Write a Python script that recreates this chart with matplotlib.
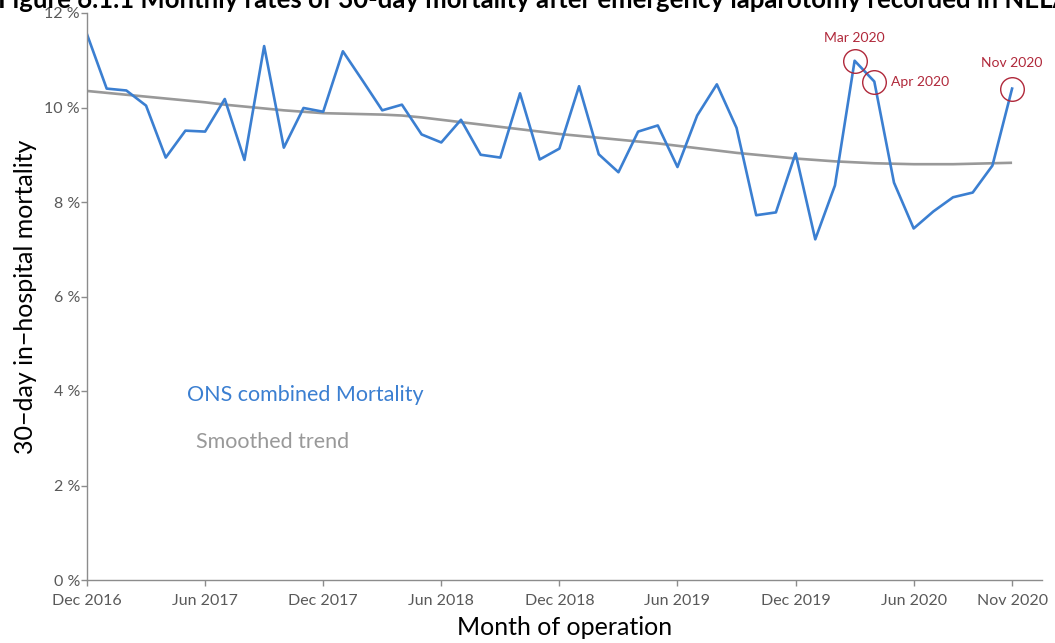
import matplotlib
matplotlib.use('Agg')
import matplotlib.pyplot as plt

# monthly 30-day mortality (%), Dec 2016 .. Nov 2020
mortality = [11.55, 10.40, 10.36, 10.04, 8.94, 9.51, 9.49, 10.18, 8.89, 11.30, 9.15, 9.99,
             9.91, 11.19, 10.57, 9.94, 10.06, 9.43, 9.26, 9.74, 9.00, 8.94, 10.30, 8.90,
             9.13, 10.45, 9.01, 8.63, 9.49, 9.62, 8.74, 9.83, 10.49, 9.57, 7.72, 7.78,
             9.03, 7.21, 8.35, 10.99, 10.55, 8.41, 7.44, 7.80, 8.10, 8.20, 8.77, 10.40]
smoothed = [10.35, 10.31, 10.27, 10.23, 10.19, 10.15, 10.11, 10.06, 10.02, 9.98, 9.94, 9.91,
            9.88, 9.87, 9.86, 9.85, 9.83, 9.79, 9.74, 9.69, 9.64, 9.59, 9.54, 9.49,
            9.44, 9.40, 9.36, 9.32, 9.28, 9.24, 9.19, 9.14, 9.09, 9.04, 9.00, 8.96,
            8.92, 8.89, 8.86, 8.84, 8.82, 8.81, 8.80, 8.80, 8.80, 8.81, 8.82, 8.83]
tick_pos = [0, 6, 12, 18, 24, 30, 36, 42, 47]
tick_labels = ['Dec 2016', 'Jun 2017', 'Dec 2017', 'Jun 2018', 'Dec 2018',
               'Jun 2019', 'Dec 2019', 'Jun 2020', 'Nov 2020']
highlight = [39, 40, 47]
highlight_labels = ['Mar 2020', 'Apr 2020', 'Nov 2020']

plt.rcParams['font.family'] = ['Lato', 'DejaVu Sans']

blue = '#3b7fd1'
grey = '#999999'
red = '#b0283a'
axis_grey = '#8c8c8c'

x = list(range(len(mortality)))

fig = plt.figure(figsize=(10.55, 6.43), dpi=100)
ax = fig.add_axes([87 / 1055, 63 / 643, (1042 - 87) / 1055, (580 - 13) / 643])

ax.plot(x, smoothed, color=grey, lw=1.9, solid_capstyle='butt')
ax.plot(x, mortality, color=blue, lw=1.9)

# circled months
for i in highlight:
    ax.plot(x[i], mortality[i], 'o', ms=17, mfc='none', mec=red, mew=1.0)
ax.annotate(highlight_labels[0], (x[39], mortality[39]), xytext=(0, 12), textcoords='offset points',
            ha='center', va='bottom', color=red, fontsize=10)
ax.annotate(highlight_labels[1], (x[40], mortality[40]), xytext=(12, 0), textcoords='offset points',
            ha='left', va='center', color=red, fontsize=10)
ax.annotate(highlight_labels[2], (x[47], mortality[47]), xytext=(0, 14), textcoords='offset points',
            ha='center', va='bottom', color=red, fontsize=10)

ax.set_xlim(0, 48.52)
ax.set_ylim(0, 12)
ax.set_xticks(tick_pos)
ax.set_xticklabels(tick_labels)
ax.set_yticks(range(0, 13, 2))
ax.set_yticklabels([f'{v} %' for v in range(0, 13, 2)])

for s in ['top', 'right']:
    ax.spines[s].set_visible(False)
for s in ['left', 'bottom']:
    ax.spines[s].set_color(axis_grey)
    ax.spines[s].set_linewidth(1.0)
ax.tick_params(colors=axis_grey, length=4, width=1.0, labelsize=11.5, labelcolor='#595959')
ax.tick_params(axis='x', pad=6)
ax.tick_params(axis='y', pad=1)

ax.set_xlabel('Month of operation', fontsize=18, labelpad=6)
ax.set_ylabel('30\u2212day in\u2212hospital mortality', fontsize=18, labelpad=5)

# inline legend
ax.text(0.105, 0.326, 'ONS combined Mortality', transform=ax.transAxes, color=blue, fontsize=15.5, va='center')
ax.text(0.114, 0.243, 'Smoothed trend', transform=ax.transAxes, color=grey, fontsize=15.5, va='center')

# title, clipped at the top edge as in the source
fig.text(-0.002, 635 / 643, 'Figure 6.1.1 Monthly rates of 30-day mortality after emergency laparotomy recorded in NELA',
         fontsize=18.5, fontweight='bold', va='baseline', ha='left')

fig.savefig('out.png', dpi=100)
